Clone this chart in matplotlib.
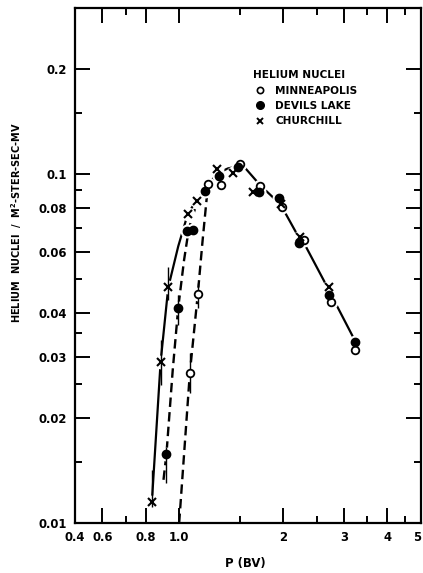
import matplotlib
matplotlib.use('Agg')
import matplotlib.pyplot as plt
from matplotlib.lines import Line2D
from matplotlib.ticker import FixedLocator, FixedFormatter, NullFormatter

plt.rcParams['font.family'] = 'DejaVu Sans'
plt.rcParams['font.weight'] = 'bold'
plt.rcParams['axes.labelweight'] = 'bold'

# helium nuclei spectra (P in BV, J in /m2-ster-sec-MV)
minn_p = [1.074, 1.132, 1.210, 1.323, 1.500, 1.713, 1.984, 2.299, 2.746, 3.232]
minn_j = [0.0270, 0.0453, 0.0936, 0.0930, 0.1073, 0.0924, 0.0806, 0.0650, 0.0429, 0.0313]

dev_p = [0.919, 0.994, 1.053, 1.095, 1.184, 1.301, 1.477, 1.697, 1.942, 2.222, 2.718, 3.219]
dev_j = [0.0158, 0.0415, 0.0687, 0.0691, 0.0896, 0.0987, 0.1049, 0.0888, 0.0855, 0.0636, 0.0452, 0.0331]

chu_p = [0.834, 0.884, 0.929, 1.060, 1.124, 1.289, 1.433, 1.640, 1.963, 2.236, 2.705]
chu_j = [0.0115, 0.0290, 0.0474, 0.0772, 0.0839, 0.1038, 0.1007, 0.0890, 0.0820, 0.0661, 0.0474]

# error bars (low/high ends)
err_p = [0.834, 0.884, 0.929, 0.919, 0.994, 1.074, 1.132]
err_lo = [0.0111, 0.0249, 0.0436, 0.0130, 0.0369, 0.0236, 0.0413]
err_hi = [0.0142, 0.0335, 0.0541, 0.0165, 0.0450, 0.0307, 0.0487]

# hand drawn curves
solid_p = [0.834, 0.884, 0.930, 0.994, 1.060, 1.124, 1.207, 1.288, 1.384, 1.477,
           1.546, 1.716, 1.905, 2.006, 2.183, 2.329, 2.636, 2.831, 3.219]
solid_j = [0.0115, 0.0290, 0.0474, 0.0622, 0.0772, 0.0843, 0.0924, 0.1007, 0.1040, 0.1054,
           0.1047, 0.0930, 0.0843, 0.0789, 0.0678, 0.0618, 0.0490, 0.0427, 0.0334]

dev_curve_p = [0.901, 0.919, 0.958, 0.994, 1.033, 1.067, 1.124, 1.184, 1.247]
dev_curve_j = [0.0133, 0.0158, 0.0274, 0.0415, 0.0567, 0.0700, 0.0826, 0.0900, 0.0961]

minn_curve_p = [1.0, 1.074, 1.132, 1.169, 1.207, 1.264]
minn_curve_j = [0.0100, 0.0270, 0.0453, 0.0647, 0.0898, 0.1000]

xmajor = [0.6, 0.8, 1.0, 2, 3, 4, 5]
xmajor_labels = ['0.6', '0.8', '1.0', '2', '3', '4', '5']
xminor = [0.7, 1.5, 2.5, 3.5, 4.5]
ymajor = [0.01, 0.02, 0.03, 0.04, 0.06, 0.08, 0.1, 0.2]
ymajor_labels = ['0.01', '0.02', '0.03', '0.04', '0.06', '0.08', '0.1', '0.2']
yminor = [0.015, 0.025, 0.035, 0.05, 0.07, 0.09, 0.15]

fig = plt.figure(figsize=(4.23, 5.73), dpi=100)
ax = fig.add_axes([75/423, 50/573, 346/423, 515/573])
ax.set_xscale('log')
ax.set_yscale('log')
ax.set_xlim(0.5, 5.0)
ax.set_ylim(0.01, 0.3)

dash = (0, (4, 2.2))
ax.plot(solid_p, solid_j, '-', color='k', lw=1.6, zorder=2)
ax.plot(dev_curve_p, dev_curve_j, linestyle=dash, color='k', lw=1.7, zorder=2)
ax.plot(minn_curve_p, minn_curve_j, linestyle=dash, color='k', lw=1.7, zorder=2)

# white halos so the curves break at the points
for p, j in [(minn_p, minn_j), (dev_p, dev_j), (chu_p, chu_j)]:
    ax.plot(p, j, 'o', ms=9, color='white', mec='white', zorder=3)

ax.vlines(err_p, err_lo, err_hi, color='k', lw=1.0, zorder=3.5)

ax.plot(minn_p, minn_j, 'o', ms=5.5, mfc='white', mec='k', mew=1.3, ls='none', zorder=4)
ax.plot(dev_p, dev_j, 'o', ms=6, mfc='k', mec='k', ls='none', zorder=4)
ax.plot(chu_p, chu_j, 'x', ms=6, mec='k', mew=1.5, ls='none', zorder=4)

ax.xaxis.set_major_locator(FixedLocator(xmajor))
ax.xaxis.set_major_formatter(FixedFormatter(xmajor_labels))
ax.xaxis.set_minor_locator(FixedLocator(xminor))
ax.xaxis.set_minor_formatter(NullFormatter())
ax.yaxis.set_major_locator(FixedLocator(ymajor))
ax.yaxis.set_major_formatter(FixedFormatter(ymajor_labels))
ax.yaxis.set_minor_locator(FixedLocator(yminor))
ax.yaxis.set_minor_formatter(NullFormatter())

ax.tick_params(which='both', direction='in', top=True, right=True, width=1.4,
               labelsize=8.4, pad=6)
ax.tick_params(which='major', length=11)
ax.tick_params(which='minor', length=5)
for s in ax.spines.values():
    s.set_linewidth(1.6)

# keep the last label inside the picture
fig.canvas.draw()
ax.get_xticklabels()[-1].set_horizontalalignment('right')

# corner label of the original axis
ax.text(0, -0.016, '0.4', transform=ax.transAxes, ha='center', va='top', fontsize=8.4)

ax.set_xlabel('P (BV)', fontsize=8.4, fontweight='bold')
ax.xaxis.set_label_coords(0.491, -0.066)
ax.set_ylabel(r'HELIUM  NUCLEI  /  M$^{\mathbf{2}}$-STER-SEC-MV', fontsize=7.0,
              fontweight='bold')
ax.yaxis.set_label_coords(-0.147, 0.584)

handles = [Line2D([], [], marker='o', ls='none', ms=4.5, mfc='white', mec='k', mew=1.2),
           Line2D([], [], marker='o', ls='none', ms=5.5, mfc='k', mec='k'),
           Line2D([], [], marker='x', ls='none', ms=5, mec='k', mew=1.4)]
leg = ax.legend(handles, ['MINNEAPOLIS', 'DEVILS LAKE', 'CHURCHILL'],
                title='HELIUM NUCLEI', loc='upper left', bbox_to_anchor=(0.50, 0.889),
                frameon=False, fontsize=7.6, title_fontsize=7.6, borderpad=0,
                handlelength=1.2, handletextpad=0.9, labelspacing=0.5, alignment='left')
leg.get_title().set_fontweight('bold')
for t in leg.get_texts():
    t.set_fontweight('bold')

fig.savefig('out.png', dpi=100)
